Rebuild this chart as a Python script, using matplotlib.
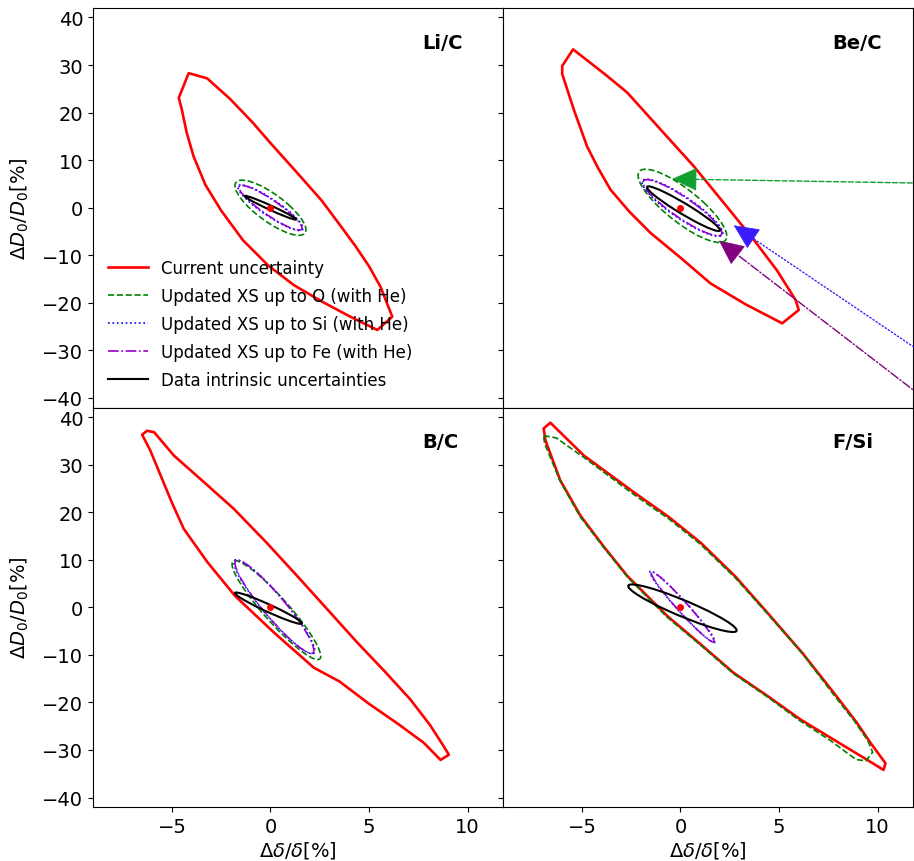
import numpy as np
import matplotlib.pyplot as plt
from matplotlib.patches import Ellipse, Polygon
from matplotlib.lines import Line2D

# panel names
panels = ['Li/C', 'Be/C', 'B/C', 'F/Si']

# "Current uncertainty" contours (x, y)
red_lic = [(-4.15, 28.3), (-3.21, 27.2), (-2.03, 22.8), (-0.9, 17.9), (0.0, 13.6),
           (1.3, 7.6), (2.6, 1.5), (3.5, -3.5), (4.3, -8.0), (5.0, -12.3),
           (5.58, -16.6), (6.18, -22.9), (5.42, -25.7), (4.0, -22.8), (2.6, -19.7),
           (1.2, -16.3), (-0.1, -12.2), (-1.4, -6.8), (-2.5, -0.6), (-3.3, 4.8),
           (-3.9, 10.8), (-4.25, 15.8), (-4.5, 20.7), (-4.65, 23.1)]
red_bec = [(-5.45, 33.3), (-3.72, 27.7), (-2.7, 24.2), (-1.0, 16.4), (0.68, 8.7),
           (2.2, 1.0), (3.72, -6.75), (4.9, -13.2), (5.84, -19.4), (6.0, -21.5),
           (5.16, -24.3), (3.3, -20.3), (1.52, -15.9), (0.0, -10.5), (-1.52, -5.3),
           (-2.6, -0.8), (-3.55, 3.8), (-4.2, 8.5), (-4.74, 12.9), (-5.4, 20.5),
           (-6.0, 28.1), (-6.0, 29.8)]
red_bc = [(-6.51, 36.3), (-6.26, 37.1), (-5.9, 36.8), (-4.9, 31.9), (-3.4, 26.4),
          (-1.86, 20.7), (-0.2, 13.6), (1.35, 6.6), (2.9, -0.5), (4.4, -7.4),
          (5.8, -13.5), (7.1, -19.4), (8.1, -24.8), (8.8, -29.3), (9.05, -31.0),
          (8.63, -32.1), (7.78, -28.5), (6.5, -24.6), (5.0, -20.3), (3.5, -15.6),
          (2.2, -12.7), (0.2, -5.4), (-1.8, 2.4), (-3.2, 9.5), (-4.4, 16.5),
          (-5.0, 22.0), (-5.5, 27.0), (-6.1, 33.0)]
red_fsi = [(-6.6, 38.8), (-4.9, 31.9), (-2.37, 24.2), (-0.6, 19.0), (1.02, 13.6),
           (2.8, 6.4), (4.4, -1.1), (6.2, -9.7), (7.78, -18.0), (8.9, -24.0),
           (9.64, -28.5), (10.4, -32.8), (10.3, -34.2), (9.48, -32.1), (7.8, -27.9),
           (6.09, -23.6), (4.4, -18.6), (2.7, -13.8), (1.0, -7.7), (-0.68, -1.8),
           (-2.7, 6.6), (-3.9, 12.8), (-5.08, 19.3), (-6.1, 26.7), (-6.85, 35.1),
           (-6.94, 37.6)]
red_contours = [red_lic, red_bec, red_bc, red_fsi]

# F/Si "up to O" contour hugs the red one
green_fsi = [(-6.94, 36.1), (-6.3, 35.6), (-4.9, 31.5), (-2.4, 23.8), (-0.6, 18.6),
             (1.0, 13.3), (2.8, 6.1), (4.4, -1.3), (6.2, -9.8), (7.7, -18.0),
             (8.8, -23.8), (9.5, -28.0), (9.75, -30.5), (9.4, -32.3), (8.9, -32.0),
             (7.6, -28.0), (6.0, -23.7), (4.4, -18.8), (2.7, -14.0), (1.0, -7.9),
             (-0.7, -2.0), (-2.7, 6.4), (-3.9, 12.6), (-5.1, 19.1), (-6.1, 26.5),
             (-6.9, 34.5)]

# small contours: (cx, cy, sigma_x, sigma_y, rho) per panel
green_ell = [(0.0, 0.0, 1.8, 5.8, -0.8), (0.1, 0.4, 2.25, 7.7, -0.83),
             (0.3, -0.6, 2.25, 10.4, -0.93), None]
blue_ell = [(0.0, 0.0, 1.65, 4.8, -0.9), (0.1, 0.0, 2.05, 6.0, -0.89),
            (0.2, 0.1, 2.05, 9.9, -0.935), (0.1, 0.1, 1.65, 7.5, -0.975)]
purple_ell = [(0.0, 0.0, 1.6, 4.7, -0.91), (0.1, 0.0, 2.0, 5.9, -0.9),
              (0.2, 0.1, 2.0, 9.8, -0.935), (0.1, 0.1, 1.6, 7.4, -0.975)]
black_ell = [(0.0, 0.0, 1.3, 2.5, -0.98), (0.15, -0.2, 1.85, 4.7, -0.96),
             (-0.1, -0.2, 1.7, 3.3, -0.965), (0.1, -0.2, 2.75, 5.0, -0.93)]

# Be/C arrows: tip, start (outside the panel), colour, line style
arrow_tips = [(-0.42, 6.05), (2.7, -3.7), (1.95, -6.9)]
arrow_starts = [(14.0, 5.05), (14.0, -35.35), (14.0, -45.3)]
arrow_colors = ['#13a032', '#3a1cff', '#800080']
arrow_styles = ['--', ':', '-.']

legend_labels = ['Current uncertainty', 'Updated XS up to O (with He)',
                 'Updated XS up to Si (with He)', 'Updated XS up to Fe (with He)',
                 'Data intrinsic uncertainties']


def cov_ellipse(p, **kw):
    cx, cy, sx, sy, rho = p
    cov = np.array([[sx**2, rho*sx*sy], [rho*sx*sy, sy**2]])
    vals, vecs = np.linalg.eigh(cov)
    ang = np.degrees(np.arctan2(vecs[1, 1], vecs[0, 1]))
    return Ellipse((cx, cy), 2*np.sqrt(vals[1]), 2*np.sqrt(vals[0]), angle=ang,
                   fill=False, **kw)


fig, axs = plt.subplots(2, 2, figsize=(9.14, 8.62), dpi=100, sharex=True, sharey=True)
fig.subplots_adjust(left=0.1018, right=0.999, top=0.9896, bottom=0.0626,
                    wspace=0, hspace=0)

for i, ax in enumerate(axs.flat):
    ax.add_patch(Polygon(red_contours[i], closed=True, fill=False, ec='red', lw=1.9,
                         joinstyle='round', zorder=3))
    if green_ell[i] is not None:
        ax.add_patch(cov_ellipse(green_ell[i], ec='green', ls='--', lw=1.2, zorder=4))
    else:
        ax.add_patch(Polygon(green_fsi, closed=True, fill=False, ec='green', ls='--',
                             lw=1.2, zorder=4))
    ax.add_patch(cov_ellipse(blue_ell[i], ec='blue', ls=':', lw=1.2, zorder=5))
    ax.add_patch(cov_ellipse(purple_ell[i], ec='darkviolet', ls='-.', lw=1.2, zorder=5))
    ax.add_patch(cov_ellipse(black_ell[i], ec='black', ls='-', lw=1.5, zorder=6))
    ax.plot([0], [0], 'o', color='red', ms=4, zorder=7)
    ax.text(7.7, 34.8, panels[i], ha='left', va='center', fontsize=14, fontweight='bold')
    ax.set_xlim(-9, 11.8)
    ax.set_ylim(-42, 42)
    ax.set_xticks([-5, 0, 5, 10])
    ax.set_yticks(np.arange(-40, 41, 10))
    ax.tick_params(labelsize=14)

ax = axs[0, 1]
for tip, start, c, ls in zip(arrow_tips, arrow_starts, arrow_colors, arrow_styles):
    tip, start = np.array(tip), np.array(start)
    back = tip + 0.08 * (start - tip)
    ax.annotate('', xy=back, xytext=start, annotation_clip=False,
                arrowprops=dict(arrowstyle='-', color=c, ls=ls, lw=1, shrinkA=0, shrinkB=0))
    ax.annotate('', xy=tip, xytext=back, annotation_clip=False,
                arrowprops=dict(arrowstyle='-|>,head_length=0.75,head_width=0.35',
                                mutation_scale=22, color=c, lw=0.5, shrinkA=0, shrinkB=0))

for ax in axs[0]:
    ax.tick_params(bottom=False)
for ax in axs[:, 1]:
    ax.tick_params(labelleft=False)
for ax in axs[1]:
    ax.set_xlabel(r'$\Delta\delta/\delta[\%]$', fontsize=14, labelpad=2)
for ax in axs[:, 0]:
    ax.set_ylabel(r'$\Delta D_0/D_0[\%]$', fontsize=14, labelpad=8)

handles = [Line2D([], [], color='red', lw=1.9),
           Line2D([], [], color='green', ls='--', lw=1.2),
           Line2D([], [], color='blue', ls=':', lw=1.2),
           Line2D([], [], color='darkviolet', ls='-.', lw=1.2),
           Line2D([], [], color='black', lw=1.5)]
axs[0, 0].legend(handles, legend_labels, loc='lower left', frameon=False,
                 fontsize=12, handlelength=2.4, labelspacing=0.6,
                 bbox_to_anchor=(0, 0.01))

fig.savefig('out.png', dpi=100)
